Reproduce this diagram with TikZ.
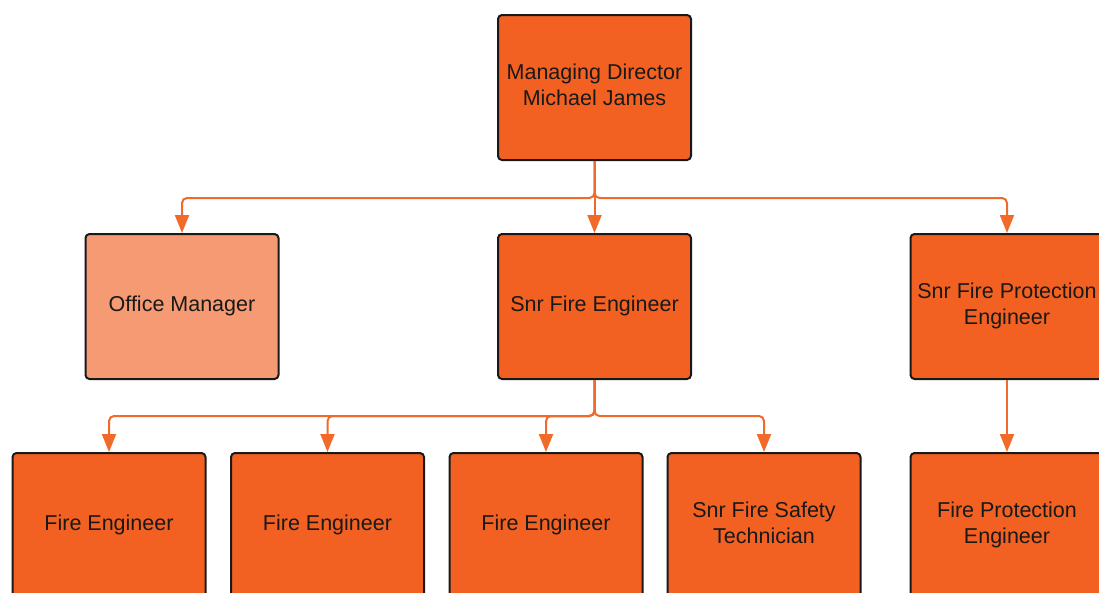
\documentclass[tikz,border=0pt]{standalone}
\usepackage{fontspec}
\setmainfont{Liberation Sans}
\usetikzlibrary{arrows.meta,calc}
\definecolor{boxfill}{HTML}{F26122}
\definecolor{lightfill}{HTML}{F59A72}
\definecolor{conncol}{HTML}{F26A2A}
\newcommand\boxtext[1]{\raisebox{4pt}{\begin{tabular}{@{}c@{}}#1\end{tabular}}}
\tikzset{
  orgbox/.style={draw=black!90, line width=2pt, rounded corners=4pt, fill=boxfill,
    minimum width=193pt, minimum height=145pt, inner sep=0pt, align=center,
    font=\fontsize{21.5pt}{26pt}\selectfont, text=black!90},
  lightbox/.style={orgbox, fill=lightfill},
  conn/.style={draw=conncol, line width=2pt, rounded corners=5pt,
    -{Triangle[length=18pt,width=14pt]}},
}
\begin{document}
\begin{tikzpicture}[x=1pt,y=-1pt]
\useasboundingbox (0,0) rectangle (1099,592);
\clip (0,0) rectangle (1099,592);
\fill[white] (0,0) rectangle (1099,592);
% row 1
\node[orgbox] (md) at (594.5,87.5) {\boxtext{Managing Director\\Michael James}};
% row 2
\node[lightbox] (om) at (182,306.5) {\boxtext{Office Manager}};
\node[orgbox] (sfe) at (594.5,306.5) {\boxtext{Snr Fire Engineer}};
\node[orgbox] (sfp) at (1007,306.5) {\boxtext{Snr Fire Protection\\Engineer}};
% row 3
\node[orgbox] (fe1) at (109,525.5) {\boxtext{Fire Engineer}};
\node[orgbox] (fe2) at (327.5,525.5) {\boxtext{Fire Engineer}};
\node[orgbox] (fe3) at (546,525.5) {\boxtext{Fire Engineer}};
\node[orgbox] (sft) at (764,525.5) {\boxtext{Snr Fire Safety\\Technician}};
\node[orgbox] (fpe) at (1007,525.5) {\boxtext{Fire Protection\\Engineer}};
% junctions
\coordinate (j1) at ($(md.south)+(0,37)$);
\coordinate (j2) at ($(sfe.south)+(0,36)$);
% connectors
\draw[conn] (md.south) -- (j1) -| (om.north);
\draw[conn] (md.south) -- (j1) -| (sfp.north);
\draw[conn] (md.south) -- (sfe.north);
\draw[conn] (sfe.south) -- (j2) -| (fe1.north);
\draw[conn] (sfe.south) -- (j2) -| (fe2.north);
\draw[conn] (sfe.south) -- (j2) -| (fe3.north);
\draw[conn] (sfe.south) -- (j2) -| (sft.north);
\draw[conn] (sfp.south) -- (fpe.north);
\end{tikzpicture}
\end{document}
